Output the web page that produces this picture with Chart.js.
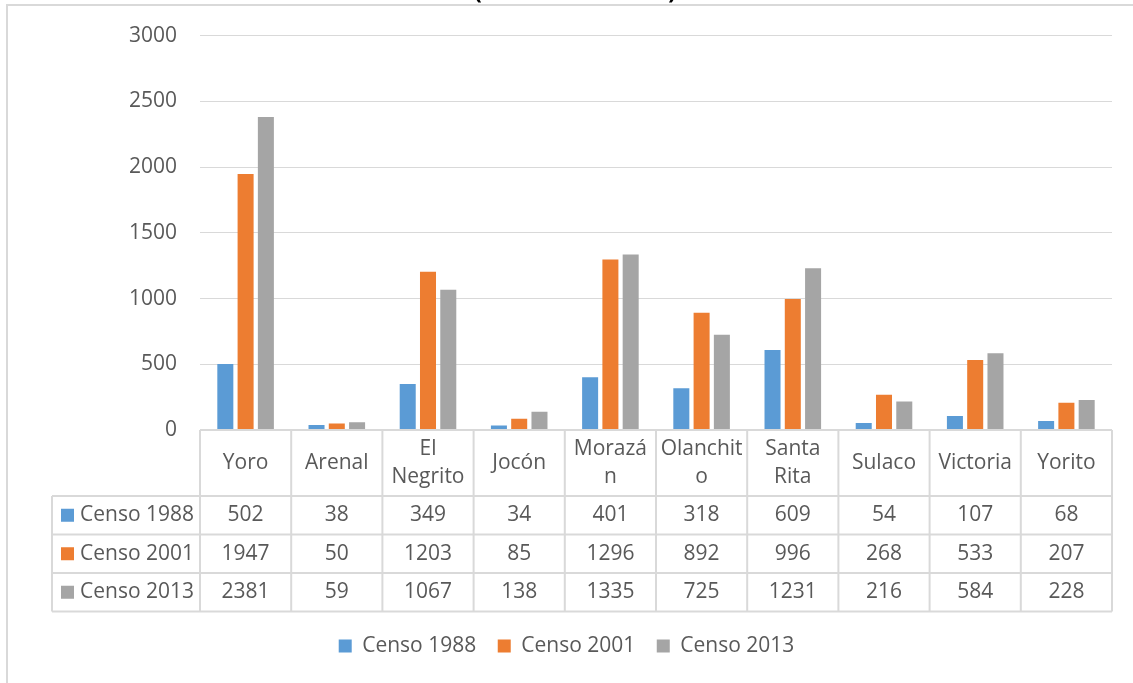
<!DOCTYPE html>
<html>
<head>
<meta charset="utf-8">
<script src="https://cdn.jsdelivr.net/npm/chart.js@4"></script>
<style>
  html, body { margin: 0; padding: 0; background: #fff; }
  #wrap { width: 1133px; height: 683px; }
</style>
</head>
<body>
<div id="wrap"><canvas id="chart"></canvas></div>
<script>
const chartTitle = '(Datos Absolutos)';
const categories = ['Yoro', 'Arenal', ['El', 'Negrito'], 'Jocón', ['Morazá', 'n'], ['Olanchit', 'o'], ['Santa', 'Rita'], 'Sulaco', 'Victoria', 'Yorito'];
const seriesNames = ['Censo 1988', 'Censo 2001', 'Censo 2013'];
const censo1988 = [502, 38, 349, 34, 401, 318, 609, 54, 107, 68];
const censo2001 = [1947, 50, 1203, 85, 1296, 892, 996, 268, 533, 207];
const censo2013 = [2381, 59, 1067, 138, 1335, 725, 1231, 216, 584, 228];
const yMax = 3000;
const yStep = 500;

const colors = ['#5B9BD5', '#ED7D31', '#A5A5A5'];
const textColor = '#595959';
const lineColor = '#D9D9D9';
const font = '"Open Sans", sans-serif';

// frame, cut-off title and the data table under the plot
const tablePlugin = {
    id: 'dataTable',
    beforeDraw(chart) {
        const ctx = chart.ctx;
        ctx.save();
        ctx.strokeStyle = lineColor;
        ctx.lineWidth = 2;
        ctx.beginPath();
        ctx.moveTo(7, chart.height);
        ctx.lineTo(7, 5);
        ctx.lineTo(chart.width, 5);
        ctx.stroke();
        ctx.fillStyle = '#000';
        ctx.font = 'bold 23px ' + font;
        ctx.textAlign = 'center';
        ctx.textBaseline = 'alphabetic';
        ctx.fillText(chartTitle, 575, -1);
        ctx.restore();
    },
    afterDraw(chart) {
        const ctx = chart.ctx;
        const x = chart.scales.x;
        const area = chart.chartArea;
        const top = area.bottom;
        const headH = 66;
        const rowH = 38.5;
        const keyLeft = 52;
        const n = categories.length;
        const colW = (area.right - area.left) / n;
        const bottom = top + headH + rowH * 3;
        const data = [censo1988, censo2001, censo2013];

        ctx.save();
        ctx.strokeStyle = lineColor;
        ctx.lineWidth = 2;
        ctx.beginPath();
        ctx.moveTo(area.left, top);
        ctx.lineTo(area.right, top);
        for (let r = 0; r <= 3; r++) {
            const y = top + headH + rowH * r;
            ctx.moveTo(keyLeft, y);
            ctx.lineTo(area.right, y);
        }
        for (let i = 0; i <= n; i++) {
            const cx = area.left + colW * i;
            ctx.moveTo(cx, top);
            ctx.lineTo(cx, bottom);
        }
        ctx.moveTo(keyLeft, top + headH);
        ctx.lineTo(keyLeft, bottom);
        ctx.stroke();

        ctx.font = '21px ' + font;
        ctx.fillStyle = textColor;
        ctx.textAlign = 'center';
        ctx.textBaseline = 'middle';
        categories.forEach((c, i) => {
            const cx = x.getPixelForValue(i);
            const lines = Array.isArray(c) ? c : [c];
            const lh = 28;
            const y0 = top + headH / 2 - (lines.length - 1) * lh / 2;
            lines.forEach((l, k) => ctx.fillText(l, cx, y0 + k * lh));
        });

        data.forEach((row, r) => {
            const cy = top + headH + rowH * r + rowH / 2;
            row.forEach((v, i) => {
                ctx.fillText(String(v), x.getPixelForValue(i), cy);
            });
            ctx.fillStyle = colors[r];
            ctx.fillRect(61, cy - 6.5, 13, 13);
            ctx.fillStyle = textColor;
            ctx.textAlign = 'left';
            ctx.fillText(seriesNames[r], 80, cy);
            ctx.textAlign = 'center';
        });
        ctx.restore();
    }
};

const chart = document.getElementById('chart');

new Chart(chart, {
    type: 'bar',
    data: {
        labels: categories,
        datasets: [
            { label: seriesNames[0], data: censo1988, backgroundColor: colors[0] },
            { label: seriesNames[1], data: censo2001, backgroundColor: colors[1] },
            { label: seriesNames[2], data: censo2013, backgroundColor: colors[2] },
        ]
    },
    options: {
        responsive: true,
        maintainAspectRatio: false,
        animation: false,
        categoryPercentage: 0.667,
        barPercentage: 0.79,
        layout: {
            padding: { top: 34, right: 21, bottom: 16.5, left: 21 }
        },
        scales: {
            x: {
                ticks: { display: false },
                grid: { display: false },
                border: { display: false },
                afterFit(scale) { scale.height = 184; }
            },
            y: {
                min: 0,
                max: yMax,
                ticks: {
                    stepSize: yStep,
                    padding: 23,
                    color: textColor,
                    font: { family: font, size: 21 },
                    callback: (v) => String(v)
                },
                grid: { color: lineColor, lineWidth: 1, drawTicks: false },
                border: { display: false },
                afterFit(scale) { scale.width = 179; }
            }
        },
        plugins: {
            legend: {
                position: 'bottom',
                labels: {
                    boxWidth: 13,
                    boxHeight: 13,
                    padding: 21.5,
                    color: textColor,
                    font: { family: font, size: 21 }
                }
            },
            tooltip: { enabled: false }
        }
    },
    plugins: [tablePlugin]
});
</script>
</body>
</html>
